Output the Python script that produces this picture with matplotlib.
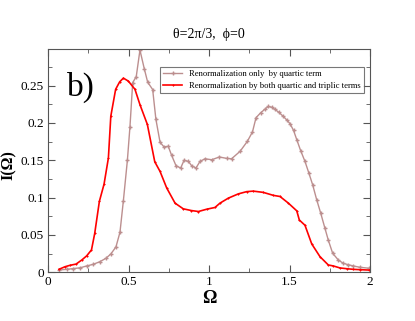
import matplotlib
matplotlib.use("Agg")
import matplotlib.pyplot as plt
from matplotlib.ticker import MultipleLocator

# Renormalization only by quartic term
omega_q = [0.068, 0.116, 0.157, 0.199, 0.24, 0.281, 0.323, 0.36, 0.39, 0.422,
           0.447, 0.468, 0.493, 0.509, 0.526, 0.548, 0.571, 0.598, 0.619, 0.65,
           0.67, 0.696, 0.72, 0.747, 0.767, 0.795, 0.824, 0.845, 0.872, 0.892,
           0.919, 0.944, 0.975, 1.017, 1.064, 1.11, 1.14, 1.193, 1.238, 1.27,
           1.292, 1.32, 1.345, 1.368, 1.39, 1.41, 1.435, 1.46, 1.483, 1.503,
           1.525, 1.545, 1.569, 1.596, 1.62, 1.644, 1.669, 1.694, 1.72, 1.741,
           1.768, 1.803, 1.834, 1.865, 1.896, 1.938, 1.996]
int_q = [0.003, 0.004, 0.005, 0.006, 0.0085, 0.0107, 0.0143, 0.0188, 0.0245, 0.034,
         0.0537, 0.0957, 0.15, 0.195, 0.254, 0.262, 0.2975, 0.2725, 0.2545, 0.2447,
         0.205, 0.174, 0.168, 0.1686, 0.157, 0.1427, 0.1396, 0.15, 0.1485, 0.1427,
         0.1396, 0.1485, 0.152, 0.1507, 0.1544, 0.1525, 0.152, 0.162, 0.1753, 0.188,
         0.207, 0.2134, 0.218, 0.222, 0.221, 0.218, 0.214, 0.209, 0.204, 0.199,
         0.19, 0.1776, 0.163, 0.1485, 0.133, 0.117, 0.097, 0.079, 0.059, 0.043,
         0.0255, 0.0165, 0.012, 0.0102, 0.0085, 0.0067, 0.0054]

# Renormalization by both quartic and triplic terms
omega_b = [0.068, 0.106, 0.137, 0.174, 0.21, 0.24, 0.27, 0.29, 0.319, 0.348,
           0.375, 0.39, 0.42, 0.445, 0.468, 0.499, 0.54, 0.571, 0.617, 0.663,
           0.696, 0.737, 0.789, 0.84, 0.89, 0.934, 0.986, 1.037, 1.068, 1.12,
           1.182, 1.234, 1.275, 1.337, 1.4, 1.441, 1.493, 1.545, 1.561, 1.596,
           1.638, 1.689, 1.741, 1.772, 1.814, 1.856, 1.896, 1.94, 1.994]
int_b = [0.004, 0.0075, 0.0094, 0.011, 0.0165, 0.022, 0.030, 0.052, 0.095, 0.118,
         0.153, 0.209, 0.245, 0.255, 0.26, 0.256, 0.245, 0.2245, 0.198, 0.148,
         0.135, 0.113, 0.0926, 0.085, 0.0827, 0.0814, 0.0845, 0.0868, 0.0926, 0.0993,
         0.105, 0.108, 0.1087, 0.107, 0.103, 0.1015, 0.0926, 0.0823, 0.070, 0.063,
         0.038, 0.021, 0.0098, 0.0085, 0.0058, 0.0048, 0.004, 0.0035, 0.003]

plt.rcParams["font.family"] = ["Liberation Serif", "DejaVu Serif"]

fig = plt.figure(figsize=(4.15, 3.21), dpi=100)
ax = fig.add_axes([0.1157, 0.1517, 0.7759, 0.6957])

ax.plot(omega_q, int_q, color="#bc8f8f", marker="+", markersize=3.5,
        markeredgewidth=1.0, linewidth=1.0,
        label="Renormalization only  by quartic term")
ax.plot(omega_b, int_b, color="#ff0000", marker="+", markersize=2,
        markeredgewidth=0.8, linewidth=1.2,
        label="Renormalization by both quartic and triplic terms")

ax.set_xlim(0, 2)
ax.set_ylim(0, 0.299)
ax.xaxis.set_minor_locator(MultipleLocator(0.25))
ax.yaxis.set_minor_locator(MultipleLocator(0.025))
ax.set_xticks([0, 0.5, 1, 1.5, 2])
ax.set_xticklabels(["0", "0.5", "1", "1.5", "2"])
ax.set_yticks([0, 0.05, 0.1, 0.15, 0.2, 0.25])
ax.set_yticklabels(["0", "0.05", "0.1", "0.15", "0.2", "0.25"])
ax.tick_params(which="both", direction="in", top=True, right=True,
               labelsize=9.5, color="#555555")
ax.tick_params(which="major", length=5, pad=3)
ax.tick_params(which="minor", length=3)
for s in ax.spines.values():
    s.set_color("#555555")

ax.set_xlabel("Ω", fontsize=13, fontweight="bold", labelpad=1)
ax.set_ylabel("I(Ω)", fontsize=11.5, fontweight="bold")
ax.yaxis.set_label_coords(-0.097, 0.48)
ax.set_title("θ=2π/3,  ϕ=0", fontsize=10, pad=8)
ax.text(0.06, 0.79, "b)", transform=ax.transAxes, fontsize=24)

leg = ax.legend(loc="upper right", fontsize=6.2, frameon=True, fancybox=False,
                edgecolor="#555555", handlelength=2.2, borderpad=0.4,
                labelspacing=0.4, bbox_to_anchor=(0.995, 0.94))
leg.get_frame().set_linewidth(0.8)

fig.savefig("out.png", dpi=100)
